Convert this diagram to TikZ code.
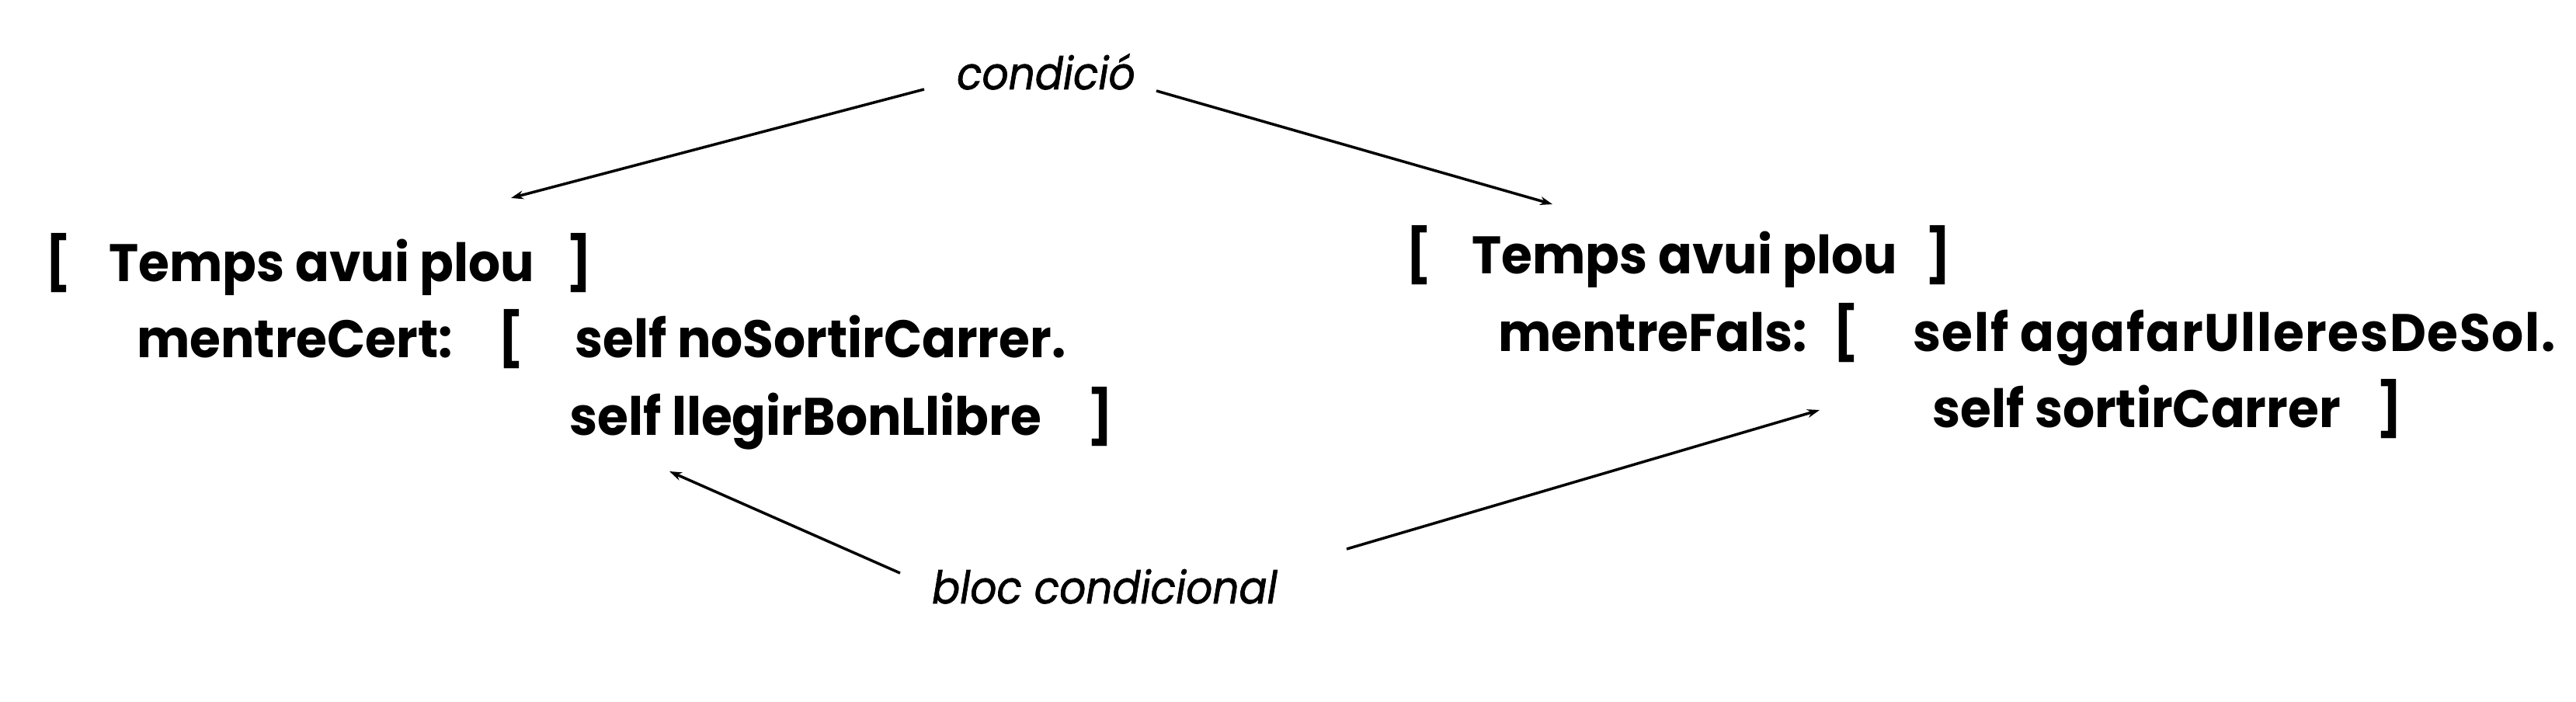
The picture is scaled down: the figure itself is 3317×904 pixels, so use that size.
\documentclass[tikz,border=0pt]{standalone}
\usepackage{fontspec}
\setmainfont{Poppins}[FakeStretch=0.95]
\newfontfamily\labf{Poppins}[FakeBold=1.2,FakeStretch=0.92]
\usetikzlibrary{arrows.meta}
\begin{document}
\begin{tikzpicture}[x=1pt,y=-1pt,
  txt/.style={inner sep=0pt, anchor=base west, font=\fontsize{68}{80}\selectfont\bfseries},
  lbl/.style={inner sep=0pt, anchor=base west, font=\fontsize{58}{68}\labf\itshape},
  arr/.style={line width=3.5pt, -{Stealth[length=16pt,width=11pt]}}]
\useasboundingbox (0,0) rectangle (3317,904);
% left block
\node[txt] (lbA) at (58,362) {[};
\node[txt] (lt) at (140,362) {Temps avui plou};
\node[txt] (lbB) at (729,362) {]};
\node[txt] (lm) at (176,460) {mentreCert:};
\node[txt] (lbC) at (641,460) {[};
\node[txt] (ls1) at (740,460) {self noSortirCarrer.};
\node[txt] (ls2) at (733,560) {self llegirBonLlibre};
\node[txt] (lbD) at (1400,560) {]};
% right block
\node[txt] (rbA) at (1810,352) {[};
\node[txt] (rt) at (1895,352) {Temps avui plou};
\node[txt] (rbB) at (2479,352) {]};
\node[txt] (rm) at (1929,452) {mentreFals:};
\node[txt] (rbC) at (2360,452) {[};
\node[txt] (rs1) at (2463,452) {\addfontfeature{LetterSpace=2.5}self agafarUlleresDeSol.};
\node[txt] (rs2) at (2488,550) {self sortirCarrer};
\node[txt] (rbD) at (3060,550) {]};
% labels
\node[lbl] (cond) at (1232,115) {condició};
\node[lbl] (bloc) at (1200,777) {bloc condicional};
% arrow ends
\coordinate (c1) at (1190,115);
\coordinate (c2) at (1489,117);
\coordinate (e1) at (658,255);
\coordinate (e2) at (1999,263);
\coordinate (b1) at (1159,738);
\coordinate (b2) at (1734,707);
\coordinate (f1) at (862,607);
\coordinate (f2) at (2343,528);
\draw[arr] (c1) -- (e1);
\draw[arr] (c2) -- (e2);
\draw[arr] (b1) -- (f1);
\draw[arr] (b2) -- (f2);
\end{tikzpicture}
\end{document}
